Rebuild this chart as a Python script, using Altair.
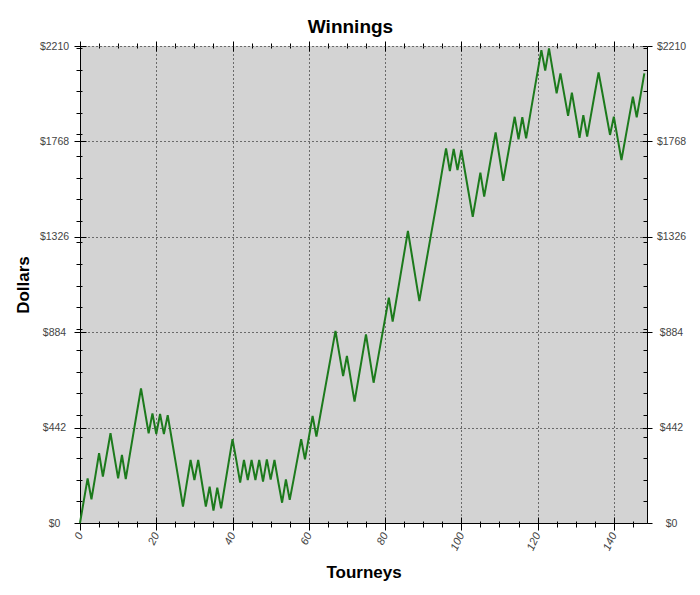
import altair as alt
import pandas as pd

# ---- data ----
tourney = list(range(149))
winnings = [
    0, 104, 207, 110, 215, 323, 215, 315, 416, 310,
    207, 315, 204, 310, 415, 520, 624, 520, 416, 508,
    412, 505, 412, 500, 395, 290, 185, 76, 185, 292,
    199, 292, 184, 76, 168, 57, 164, 68, 175, 282,
    388, 290, 187, 292, 199, 292, 199, 292, 192, 295,
    201, 292, 190, 94, 202, 107, 200, 295, 388, 295,
    395, 496, 400, 498, 596, 694, 792, 890, 785, 681,
    774, 668, 562, 666, 770, 874, 762, 650, 748, 847,
    945, 1044, 933, 1038, 1143, 1248, 1353, 1245, 1136, 1028,
    1130, 1230, 1330, 1430, 1530, 1635, 1736, 1631, 1733, 1635,
    1728, 1625, 1522, 1419, 1520, 1623, 1512, 1612, 1712, 1810,
    1697, 1585, 1684, 1783, 1882, 1778, 1880, 1782, 1885, 1988,
    2090, 2191, 2096, 2199, 2095, 1991, 2083, 1985, 1886, 1994,
    1890, 1785, 1890, 1790, 1890, 1990, 2088, 1992, 1895, 1798,
    1882, 1782, 1682, 1780, 1878, 1975, 1880, 1980, 2083,
]
x_major = [0, 20, 40, 60, 80, 100, 120, 140]
x_minor = [5, 10, 15, 25, 30, 35, 45, 50, 55, 65, 70, 75, 85, 90, 95,
           105, 110, 115, 125, 130, 135, 145]
y_major = [0, 442, 884, 1326, 1768, 2210]
y_minor = [100, 200, 300, 400, 500, 600, 700, 800, 900, 1000, 1100, 1200,
           1300, 1400, 1500, 1600, 1700, 1800, 1900, 2000, 2100, 2200]

df = pd.DataFrame({"t": tourney, "v": winnings})

W, H = 567, 477
FONT = "Liberation Sans"
xscale = alt.Scale(domain=[0, 148.7], nice=False, zero=False)
yscale = alt.Scale(domain=[0, 2210], nice=False)


def tick_axis(orient, values, size, offset=0):
    return alt.Axis(orient=orient, values=values, tickSize=size, offset=offset,
                    labels=False, domain=False, grid=False, title=None,
                    tickColor="black", tickWidth=1)


def helper(xa, ya):
    return alt.Chart(df).mark_line(strokeOpacity=0).encode(
        x=alt.X("t:Q", scale=xscale, axis=xa),
        y=alt.Y("v:Q", scale=yscale, axis=ya),
    )


x_main = alt.Axis(
    orient="bottom", values=x_major, tickSize=7, tickColor="black",
    domain=True, domainColor="black", domainWidth=1,
    grid=True, gridColor="black", gridDash=[1, 3], gridWidth=1, gridOpacity=1,
    labelAngle=295, labelAlign="right", labelBaseline="middle",
    labelFontStyle="italic", labelFont=FONT, labelFontSize=11,
    labelColor="#444444", labelPadding=3, labelFlush=False, labelOverlap=False,
    title="Tourneys", titleFont=FONT, titleFontSize=17, titleFontWeight="bold",
    titleColor="black", titleX=W / 2, titleY=49, titleBaseline="middle",
    titleAlign="center",
)
y_left = alt.Axis(
    orient="left", values=y_major, tickSize=6, tickColor="black",
    domain=True, domainColor="black", domainWidth=1,
    grid=True, gridColor="black", gridDash=[1, 3], gridWidth=1, gridOpacity=1,
    labelExpr="'$' + datum.value", labelFont=FONT, labelFontSize=10.5,
    labelAlign="center", labelBaseline="middle",
    labelColor="#444444", labelPadding=20, labelFlush=False, labelOverlap=False,
    title="Dollars", titleFont=FONT, titleFontSize=17, titleFontWeight="bold",
    titleColor="black", titleAngle=270, titleX=-57, titleY=H / 2,
    titleBaseline="middle", titleAlign="center",
)
y_right = alt.Axis(
    orient="right", values=y_major, tickSize=5, tickColor="black",
    domain=True, domainColor="black", domainWidth=1, grid=False,
    labelExpr="'$' + datum.value", labelFont=FONT, labelFontSize=10.5,
    labelAlign="center", labelBaseline="middle",
    labelColor="#444444", labelPadding=19, labelFlush=False, labelOverlap=False,
    title=None,
)

layers = [
    helper(x_main, y_left),
    helper(tick_axis("bottom", x_minor, 4), tick_axis("left", y_minor, 4)),
    helper(tick_axis("top", x_major, 6, -H), tick_axis("right", y_major, 6, -W)),
    helper(tick_axis("top", x_minor, 2, -H), tick_axis("right", y_minor, 2, -W)),
    helper(tick_axis("top", x_major, 5), y_right),
    helper(tick_axis("top", x_minor, 3), None),
    helper(tick_axis("bottom", x_major, 5, -H), tick_axis("left", y_major, 5, -W)),
    helper(tick_axis("bottom", x_minor, 2, -H), tick_axis("left", y_minor, 4, -W)),
]

line = alt.Chart(df).mark_line(color="#1c7a1c", strokeWidth=2).encode(
    x=alt.X("t:Q", scale=xscale, axis=None),
    y=alt.Y("v:Q", scale=yscale, axis=None),
)

chart = alt.layer(*layers, line).resolve_axis(
    x="independent", y="independent"
).properties(
    width=W, height=H,
    autosize=alt.AutoSizeParams(type="none"),
    padding={"left": 72, "top": 38, "right": 45, "bottom": 64},
    background="white",
    title=alt.TitleParams(
        "Winnings", font=FONT, fontSize=19, fontWeight="bold", color="black",
        anchor="middle", frame="group", dx=-13, offset=4,
    ),
).configure_view(fill="#d3d3d3", stroke=None)

chart.save("out.html", embed_options={"renderer": "svg", "actions": False})
